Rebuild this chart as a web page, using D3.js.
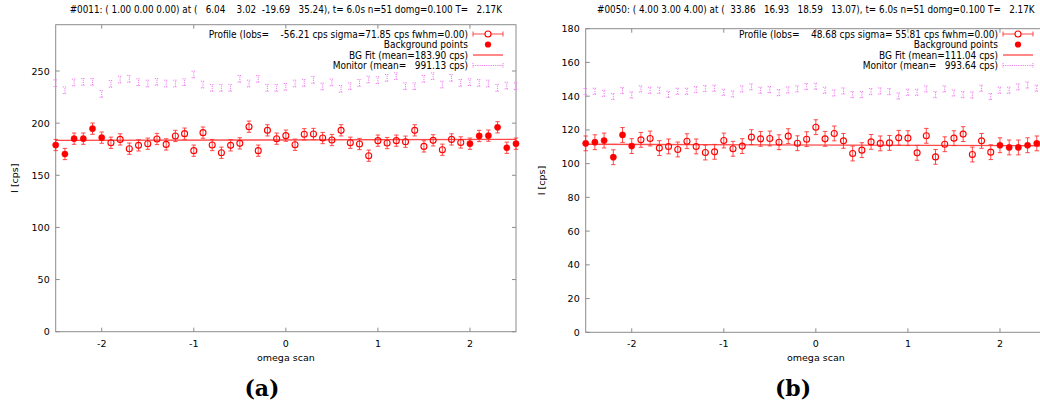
<!DOCTYPE html>
<html><head><meta charset="utf-8">
<script src="https://cdn.jsdelivr.net/npm/d3@7/dist/d3.min.js"></script>
<style>
body{margin:0;background:#fff}
svg{display:block}
text{white-space:pre;fill:#000}
</style>
</head><body>
<svg id="chart" width="1040" height="405"></svg>
<script>
// ---- data ----
const omega = [-2.5,-2.4,-2.3,-2.2,-2.1,-2.0,-1.9,-1.8,-1.7,-1.6,-1.5,-1.4,-1.3,-1.2,-1.1,-1.0,-0.9,-0.8,-0.7,-0.6,-0.5,-0.4,-0.3,-0.2,-0.1,
  0.0,0.1,0.2,0.3,0.4,0.5,0.6,0.7,0.8,0.9,1.0,1.1,1.2,1.3,1.4,1.5,1.6,1.7,1.8,1.9,2.0,2.1,2.2,2.3,2.4,2.5];
const bgOmega = [-2.5,-2.4,-2.3,-2.2,-2.1,-2.0,2.0,2.1,2.2,2.3,2.4,2.5];

const profileA = [179.0,170.4,185.1,185.1,194.7,186.1,181.2,184.4,175.5,178.7,180.3,184.8,179.6,187.7,189.9,173.6,190.9,179.0,171.6,178.7,180.6,196.6,173.6,193.1,185.1,
  188.0,179.3,189.3,189.6,185.7,183.8,193.1,181.2,180.0,168.8,183.2,180.9,183.2,182.2,193.1,177.7,183.5,174.5,184.4,181.5,180.3,187.7,188.0,196.0,176.4,180.3];
const monitorA = [238.3,231.5,239.0,239.6,239.6,228.0,237.7,241.8,242.5,239.3,238.0,239.6,238.0,238.0,239.3,246.6,237.0,233.8,233.8,233.8,242.5,238.0,242.5,233.8,233.8,
  234.8,238.0,238.6,241.5,235.1,239.0,232.9,235.4,238.6,241.8,241.2,243.4,245.0,235.4,235.4,242.5,245.0,237.0,243.4,238.6,239.3,238.6,238.0,233.8,236.0,235.4];
const bgFitA = [183.4, 184.4];
const profileErrA = 5.4, monitorErrA = 3.2;

const profileB = [112.0,112.7,113.7,103.8,117.0,110.4,114.1,114.9,109.2,110.2,108.4,113.3,110.2,106.6,107.0,113.7,108.8,110.4,115.7,114.7,114.9,112.7,116.3,112.1,
  114.5,121.6,114.7,117.9,113.5,106.0,108.0,112.9,112.0,112.3,115.3,115.1,106.4,116.5,104.0,111.5,115.1,117.5,105.4,113.5,106.8,110.9,109.6,109.6,110.9,112.0,112.0];
const monitorB = [142.7,142.9,141.7,139.8,143.3,140.7,144.3,143.5,143.5,141.1,142.9,142.9,143.9,144.5,144.7,142.3,141.3,144.3,145.5,143.5,143.9,142.1,143.7,144.3,
  145.7,145.9,143.5,141.9,143.1,140.9,140.9,142.7,143.1,142.7,140.1,142.3,142.3,144.3,140.9,144.3,141.9,140.9,140.7,144.7,139.8,143.5,143.5,145.5,146.6,144.7,144.0];
const bgFitB = [111.5, 110.6];
const profileErrB = 4.4, monitorErrB = 1.8;

const xTicks = [-2,-1,0,1,2];
const yTicksA = [0,50,100,150,200,250];
const yTicksB = [0,20,40,60,80,100,120,140,160,180];

const titleA = "#0011: ( 1.00 0.00 0.00) at (   6.04    3.02  -19.69   35.24), t= 6.0s n=51 domg=0.100 T=   2.17K";
const titleB = "#0050: ( 4.00 3.00 4.00) at (  33.86   16.93   18.59   13.07), t= 6.0s n=51 domg=0.100 T=   2.17K";
const legendA = ["Profile (Iobs=    -56.21 cps sigma=71.85 cps fwhm=0.00)", "Background points", "BG Fit (mean=183.90 cps)", "Monitor (mean=   991.13 cps)"];
const legendB = ["Profile (Iobs=    48.68 cps sigma= 55.81 cps fwhm=0.00)", "Background points", "BG Fit (mean=111.04 cps)", "Monitor (mean=   993.64 cps)"];

// ---- drawing ----
const svg = d3.select("#chart");
const RED = "#ff2a2a", PINK = "#f07cf0", GRID = "#8c8c8c";
const SANS = "'DejaVu Sans',sans-serif", COND = "'DejaVu Sans Condensed','DejaVu Sans',sans-serif";

function txt(g, font, size){
  return g.append("text").style("font-family",font).style("font-size",size+"px");
}

function panel(o){
  const g = svg.append("g");
  const x = d3.scaleLinear().domain([-2.5,2.5]).range([o.left,o.right]);
  const y = d3.scaleLinear().domain([0,o.ymax]).range([o.bottom,o.top]);
  const T = 4;
  g.append("rect").attr("x",o.left).attr("y",o.top).attr("width",o.right-o.left).attr("height",o.bottom-o.top)
    .attr("fill","none").attr("stroke",GRID).attr("stroke-width",1);
  o.xTicks.forEach(v=>{
    g.append("line").attr("x1",x(v)).attr("x2",x(v)).attr("y1",o.bottom).attr("y2",o.bottom-T).attr("stroke",GRID);
    g.append("line").attr("x1",x(v)).attr("x2",x(v)).attr("y1",o.top).attr("y2",o.top+T).attr("stroke",GRID);
    txt(g,SANS,9.5).attr("x",x(v)).attr("y",o.bottom+15).attr("text-anchor","middle").text(v);
  });
  o.yTicks.forEach(v=>{
    g.append("line").attr("x1",o.left).attr("x2",o.left+T).attr("y1",y(v)).attr("y2",y(v)).attr("stroke",GRID);
    g.append("line").attr("x1",o.right).attr("x2",o.right-T).attr("y1",y(v)).attr("y2",y(v)).attr("stroke",GRID);
    txt(g,SANS,9.5).attr("x",o.left-6).attr("y",y(v)+3.5).attr("text-anchor","end").text(v);
  });
  txt(g,SANS,9.5).attr("x",(o.left+o.right)/2).attr("y",o.bottom+29).attr("text-anchor","middle").text("omega scan");
  txt(g,SANS,9.5).attr("transform",`translate(${o.ylabX},${(o.top+o.bottom)/2}) rotate(-90)`).attr("text-anchor","middle").text("I [cps]");
  txt(g,COND,9.8).attr("x",(o.left+o.right)/2).attr("y",13).attr("text-anchor","middle").text(o.title);
  txt(g,"'DejaVu Serif',serif",22).style("font-weight","bold").attr("x",o.tagX).attr("y",396).attr("text-anchor","middle").text(o.tag);

  const plot = g.append("g");
  const cap = 2.2;
  const mon = omega.map((w,i)=>({w,v:o.monitor[i]}));
  mon.forEach(d=>{
    const p = d3.path();
    const xx = x(d.w), y0 = y(d.v-o.monErr), y1 = y(d.v+o.monErr);
    p.moveTo(xx,y0); p.lineTo(xx,y1);
    p.moveTo(xx-cap,y0); p.lineTo(xx+cap,y0);
    p.moveTo(xx-cap,y1); p.lineTo(xx+cap,y1);
    plot.append("path").attr("d",p.toString()).attr("fill","none").attr("stroke",PINK).attr("stroke-width",1).attr("stroke-dasharray","1.2,1");
  });
  plot.append("line").attr("x1",x(-2.5)).attr("x2",x(2.5)).attr("y1",y(o.bgFit[0])).attr("y2",y(o.bgFit[1]))
    .attr("stroke",RED).attr("stroke-width",1.3).attr("opacity",0.85);
  const prof = omega.map((w,i)=>({w,v:o.profile[i],bg:bgOmega.includes(w)}));
  prof.forEach(d=>{
    const p = d3.path();
    const xx = x(d.w), y0 = y(d.v-o.profErr), y1 = y(d.v+o.profErr);
    p.moveTo(xx,y0); p.lineTo(xx,y1);
    p.moveTo(xx-cap,y0); p.lineTo(xx+cap,y0);
    p.moveTo(xx-cap,y1); p.lineTo(xx+cap,y1);
    plot.append("path").attr("d",p.toString()).attr("fill","none").attr("stroke",RED).attr("stroke-width",1).attr("opacity",0.85);
  });
  plot.selectAll("circle.p").data(prof).join("circle")
    .attr("cx",d=>x(d.w)).attr("cy",d=>y(d.v)).attr("r",d=>d.bg?3.1:3)
    .attr("fill",d=>d.bg?"#ff0000":"none").attr("stroke","#ff0000").attr("stroke-width",d=>d.bg?0.5:1.1);

  const lx = o.right-48, s0 = o.right-43, s1 = o.right-13, sm = (s0+s1)/2;
  const rows = [34,44.5,55,65.5];
  o.legend.forEach((t,i)=>{
    txt(g,COND,10).attr("x",lx).attr("y",rows[i]+3.5).attr("text-anchor","end").text(t);
  });
  const lp = d3.path();
  lp.moveTo(s0,rows[0]); lp.lineTo(s1,rows[0]);
  lp.moveTo(s0,rows[0]-2.5); lp.lineTo(s0,rows[0]+2.5);
  lp.moveTo(s1,rows[0]-2.5); lp.lineTo(s1,rows[0]+2.5);
  g.append("path").attr("d",lp.toString()).attr("stroke",RED).attr("fill","none").attr("opacity",0.85);
  g.append("circle").attr("cx",sm).attr("cy",rows[0]).attr("r",3).attr("fill","#fff").attr("stroke","#ff0000").attr("stroke-width",1.1);
  g.append("circle").attr("cx",sm).attr("cy",rows[1]).attr("r",3.1).attr("fill","#ff0000");
  g.append("line").attr("x1",s0).attr("x2",s1).attr("y1",rows[2]).attr("y2",rows[2]).attr("stroke",RED).attr("stroke-width",1.3).attr("opacity",0.85);
  const lm = d3.path();
  lm.moveTo(s0,rows[3]); lm.lineTo(s1,rows[3]);
  lm.moveTo(s0,rows[3]-2.5); lm.lineTo(s0,rows[3]+2.5);
  lm.moveTo(s1,rows[3]-2.5); lm.lineTo(s1,rows[3]+2.5);
  g.append("path").attr("d",lm.toString()).attr("stroke",PINK).attr("fill","none").attr("stroke-dasharray","1.2,1");
}

panel({left:55.7,right:516,top:24.7,bottom:331.7,ymax:294.4,xTicks,yTicks:yTicksA,ylabX:18,tagX:262,
  profile:profileA,monitor:monitorA,bgFit:bgFitA,profErr:profileErrA,monErr:monitorErrA,title:titleA,legend:legendA,tag:"(a)"});
panel({left:585.7,right:1046,top:28.7,bottom:332.3,ymax:180,xTicks,yTicks:yTicksB,ylabX:545,tagX:793,
  profile:profileB,monitor:monitorB,bgFit:bgFitB,profErr:profileErrB,monErr:monitorErrB,title:titleB,legend:legendB,tag:"(b)"});
</script>
</body></html>
